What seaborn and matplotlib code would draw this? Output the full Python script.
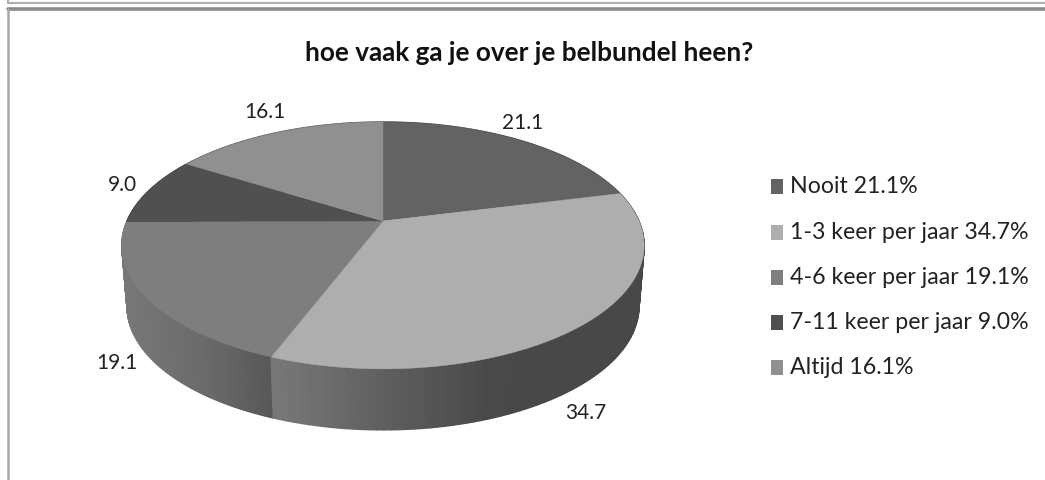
import numpy as np
import matplotlib
matplotlib.use("Agg")
import matplotlib.pyplot as plt
import seaborn as sns

categories = ["Nooit", "1-3 keer per jaar", "4-6 keer per jaar", "7-11 keer per jaar", "Altijd"]
values = [21.1, 34.7, 19.1, 9.0, 16.1]
value_labels = ["21.1", "34.7", "19.1", "9.0", "16.1"]
legend_labels = ["Nooit 21.1%", "1-3 keer per jaar 34.7%", "4-6 keer per jaar 19.1%",
                 "7-11 keer per jaar 9.0%", "Altijd 16.1%"]
title = "hoe vaak ga je over je belbundel heen?"

colors = ["#636363", "#aeaeae", "#7e7e7e", "#505050", "#909090"]
W, H = 1045, 481
sns.set_theme(style="white")
palette = sns.color_palette(colors)
plt.rcParams["font.family"] = ["Lato", "DejaVu Sans"]

fig = plt.figure(figsize=(W / 100, H / 100), dpi=100, facecolor="white")
ax = fig.add_axes([0, 0, 1, 1])
ax.set_xlim(0, W)
ax.set_ylim(H, 0)
ax.axis("off")

# perspective projection of the unit disc onto the picture
CX, CY, A, B, K = 383.0, 222.0, 256.0, 118.6, 0.198
DEPTH, SHRINK = 61.0, 0.98


def project(theta, scale=1.0, dy=0.0):
    X, Y = np.sin(theta), np.cos(theta)
    d = 1 + K * Y
    return CX + scale * A * X / d, CY + dy - B * Y / d


fractions = np.array(values) / sum(values)
edges = np.concatenate([[0], np.cumsum(fractions)]) * 2 * np.pi

# gradient stops of the visible side wall: picture x -> grey
wall_stops = {
    0: ([380, 640], [0.28, 0.28]),
    1: ([272, 400, 490, 650], [0.47, 0.36, 0.285, 0.28]),
    2: ([122, 200, 272], [0.47, 0.42, 0.34]),
    3: ([120, 300], [0.30, 0.30]),
    4: ([120, 300], [0.35, 0.35]),
}

for i in range(len(values)):
    th = np.linspace(edges[i], edges[i + 1], 90)
    mid = (edges[i] + edges[i + 1]) / 2
    z = 2 - 0.1 * np.cos(mid)
    xt, yt = project(th)
    xb, yb = project(th, SHRINK, DEPTH)
    for j in range(len(th) - 1):
        g = np.interp((xt[j] + xt[j + 1]) / 2, *wall_stops[i])
        ax.fill([xt[j], xt[j + 1], xb[j + 1], xb[j]],
                [yt[j], yt[j + 1], yb[j + 1], yb[j]],
                facecolor=(g, g, g), edgecolor=(g, g, g), lw=1.0, zorder=z)

for i, c in enumerate(palette):
    th = np.linspace(edges[i], edges[i + 1], 160)
    xt, yt = project(th)
    ax.fill(np.r_[CX, xt], np.r_[CY, yt], facecolor=c, edgecolor=c, lw=0.3, zorder=3)

# data labels
label_pos = [(523, 123), (586, 413), (117, 363), (122, 185), (265, 112)]
for t, (x, y) in zip(value_labels, label_pos):
    ax.text(x, y, t, ha="center", va="center", fontsize=15, color="#222222", zorder=5)

ax.text(529, 53, title, ha="center", va="center", fontsize=18.8, fontweight="bold", color="#111111")

# legend
leg_y = [187, 233, 278, 323, 368]
for h, l, y in zip(palette, legend_labels, leg_y):
    ax.add_patch(plt.Rectangle((771, y - 7.5), 12, 15, color=h, lw=0, zorder=5))
    ax.text(790, y, l, ha="left", va="center", fontsize=16.7, color="#222222", zorder=5)

# screenshot frames
thin, thick = "#b0b0b0", "#8c8c8c"
ax.plot([8, 8], [0, 4], color=thin, lw=1.5)
ax.plot([8, W], [4, 4], color=thin, lw=1.6)
ax.plot([8, W], [10, 10], color=thick, lw=2.6)
ax.plot([8, 8], [10, H], color="#a8a8a8", lw=1.8)

fig.savefig("out.png", dpi=100, facecolor="white")
